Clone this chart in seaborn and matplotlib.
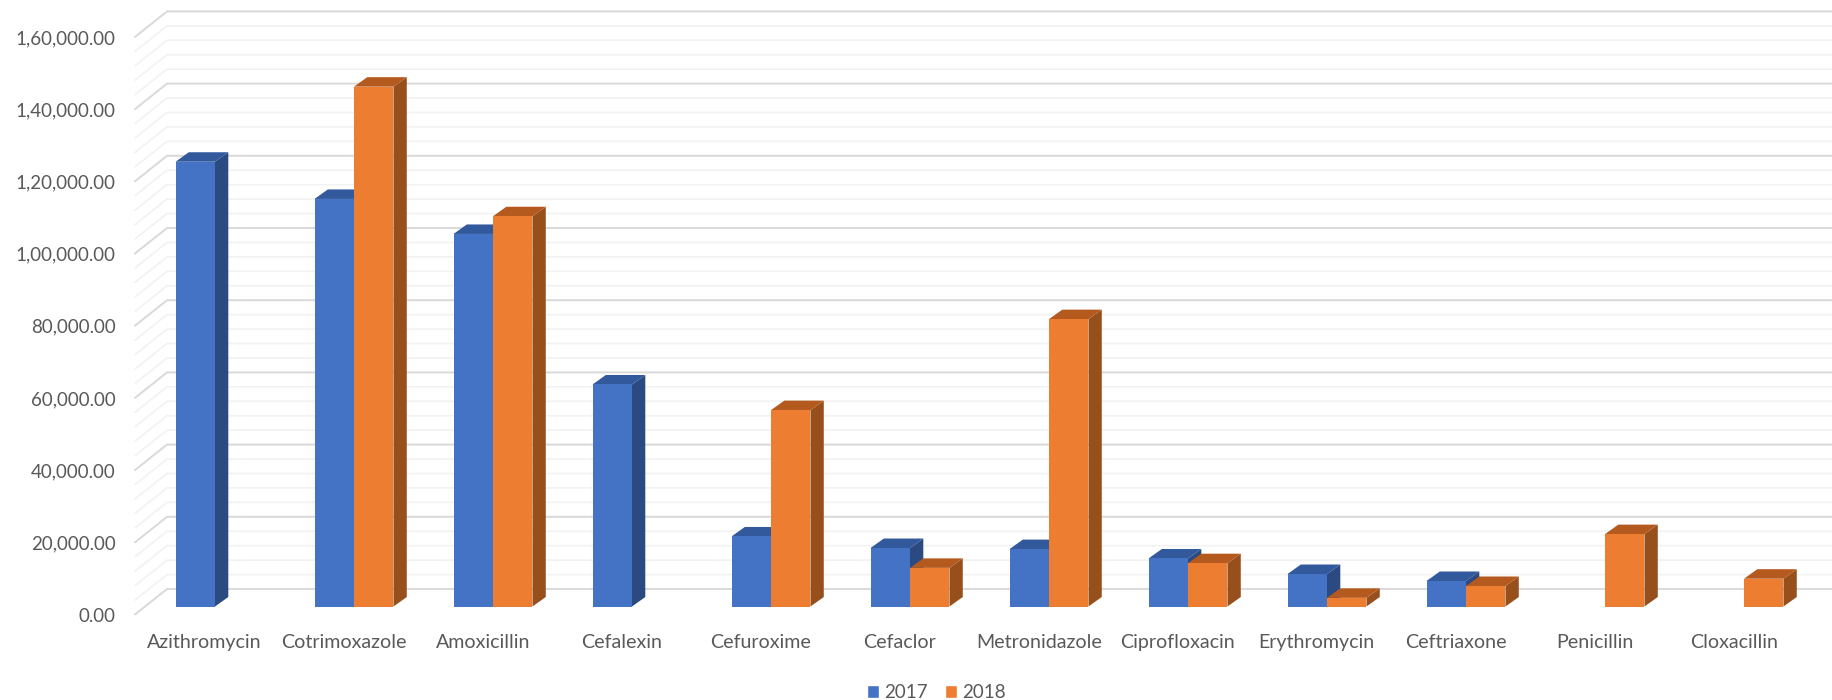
import matplotlib
matplotlib.use("Agg")
import matplotlib.pyplot as plt
from matplotlib.lines import Line2D
from matplotlib.patches import Polygon, Patch
from matplotlib.transforms import ScaledTranslation
import numpy as np
import pandas as pd
import seaborn as sns

categories = ["Azithromycin", "Cotrimoxazole", "Amoxicillin", "Cefalexin", "Cefuroxime", "Cefaclor",
              "Metronidazole", "Ciprofloxacin", "Erythromycin", "Ceftriaxone", "Penicillin", "Cloxacillin"]
values_2017 = [123200, 112900, 103200, 61500, 19400, 16200, 15900, 13300, 9000, 7060, np.nan, np.nan]
values_2018 = [np.nan, 144000, 108100, np.nan, 54400, 10700, 79600, 12000, 2400, 5680, 20050, 7700]
y_ticks = [0, 20000, 40000, 60000, 80000, 100000, 120000, 140000, 160000]
y_tick_labels = ["0.00", "20,000.00", "40,000.00", "60,000.00", "80,000.00",
                 "1,00,000.00", "1,20,000.00", "1,40,000.00", "1,60,000.00"]
minor_ticks = list(range(0, 160001, 4000))

W, H = 1832, 700
sns.set_theme(style="white")
plt.rcParams["font.family"] = ["Lato", "DejaVu Sans"]

long_df = pd.DataFrame({
    "drug": categories * 2,
    "year": ["2017"] * 12 + ["2018"] * 12,
    "value": values_2017 + values_2018,
})
palette = {"2017": "#4472C4", "2018": "#ED7D31"}
top_col = {"2017": "#31599C", "2018": "#B55A1F"}
side_col = {"2017": "#2B4A82", "2018": "#97501C"}

fig = plt.figure(figsize=(W / 100, H / 100), dpi=100)
L, R, B, T = 135, 1832, 606.5, 28.9
ax = fig.add_axes([L / W, 1 - B / H, (R - L) / W, (B - T) / H])

sns.barplot(data=long_df, x="drug", y="value", hue="year", order=categories, hue_order=["2017", "2018"],
            palette=palette, width=0.568, gap=0, saturation=1, errorbar=None, ax=ax, legend=False, linewidth=0)

ax.set_xlim((L - 215) / 139, (R - 215) / 139)
ax.set_ylim(0, 160000)
ax.set_xlabel("")
ax.set_ylabel("")
for s in ax.spines.values():
    s.set_visible(False)
ax.grid(False)

# back wall and left wall gridlines, placed by the y scale with a pixel depth
back_dx, back_dy, front_dy = 32, 17.5, -8
for v in minor_ticks:
    major = v in y_ticks
    col = "#D9D9D9" if major else "#F2F2F2"
    lw = 1.4 if major else 1.2
    z = 0.6 if major else 0.5
    yy = ax.transData.transform((0, v))[1]
    ax.add_line(Line2D([L, L + back_dx, R], [yy + front_dy, yy + back_dy, yy + back_dy], color=col, lw=lw,
                       transform=None, clip_on=False, zorder=z))

# 3-D depth: every bar read back from the seaborn patches
ddx, ddy = 13.3, 9.5
for cont, year in zip(ax.containers, ["2017", "2018"]):
    base_z = 2 if year == "2017" else 3
    for bar in cont.patches:
        if np.isnan(bar.get_height()):
            continue
        bar.set_zorder(base_z + 0.2)
        (x0, y0), (x1, y1) = ax.transData.transform(bar.get_bbox().get_points())
        side = [(x1, y0), (x1 + ddx, y0 + ddy), (x1 + ddx, y1 + ddy), (x1, y1)]
        top = [(x0, y1), (x0 + ddx, y1 + ddy), (x1 + ddx, y1 + ddy), (x1, y1)]
        ax.add_patch(Polygon(side, closed=True, transform=None, facecolor=side_col[year], edgecolor="none",
                             clip_on=False, zorder=base_z))
        ax.add_patch(Polygon(top, closed=True, transform=None, facecolor=top_col[year], edgecolor="none",
                             clip_on=False, zorder=base_z + 0.1))

# axis labels
ax.set_yticks(y_ticks)
ax.set_yticklabels(y_tick_labels)
ax.tick_params(axis="y", length=0, pad=13.8, labelsize=13.5, labelcolor="#595959")
ax.tick_params(axis="x", length=0, pad=20, labelsize=14.1, labelcolor="#595959")
y_off = ScaledTranslation(0, -8 / 100, fig.dpi_scale_trans)
x_off = ScaledTranslation(-10.3 / 100, 0, fig.dpi_scale_trans)
for t in ax.get_yticklabels():
    t.set_transform(t.get_transform() + y_off)
for t in ax.get_xticklabels():
    t.set_transform(t.get_transform() + x_off)

handles = [Patch(facecolor=palette[k], label=k) for k in ["2017", "2018"]]
fig.legend(handles=handles, loc="center", bbox_to_anchor=(936.5 / W, 1 - 692.5 / H), ncol=2, frameon=False,
           fontsize=13.5, labelcolor="#595959", handlelength=0.64, handleheight=0.64, handletextpad=0.28,
           columnspacing=0.93, borderpad=0)

fig.savefig("out.png", dpi=100, facecolor="white")
